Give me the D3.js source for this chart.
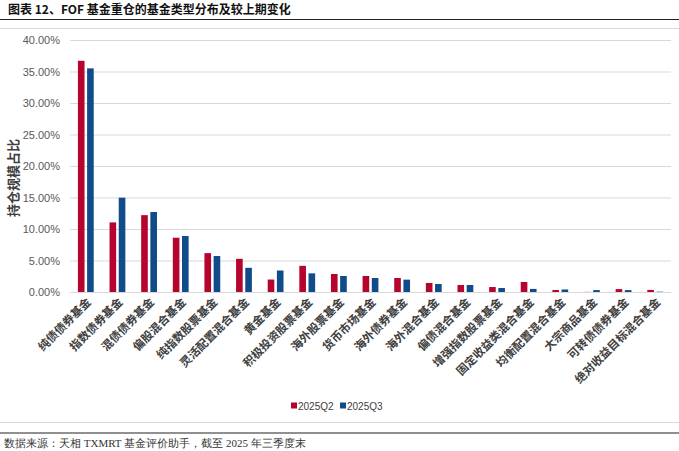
<!DOCTYPE html>
<html>
<head>
<meta charset="utf-8">
<script src="https://cdn.jsdelivr.net/npm/d3@7"></script>
<style>
  body { margin: 0; background: #fff; }
  svg { display: block; font-family: "Liberation Sans", Arial, "Noto Sans CJK SC", sans-serif; }
</style>
</head>
<body>
<svg id="chart" width="679" height="451"></svg>
<script>
const categories = [
  "纯债债券基金", "指数债券基金", "混债债券基金", "偏股混合基金", "纯指数股票基金",
  "灵活配置混合基金", "黄金基金", "积极投资股票基金", "海外股票基金", "货币市场基金",
  "海外债券基金", "海外混合基金", "偏债混合基金", "增强指数股票基金", "固定收益类混合基金",
  "均衡配置混合基金", "大宗商品基金", "可转债债券基金", "绝对收益目标混合基金"
];
const seriesNames = ["2025Q2", "2025Q3"];
const q2 = [36.7, 11.05, 12.2, 8.62, 6.17, 5.27, 1.98, 4.15, 2.86, 2.54, 2.22, 1.43, 1.11, 0.79, 1.59, 0.32, 0.02, 0.46, 0.33];
const q3 = [35.5, 14.97, 12.7, 8.89, 5.71, 3.84, 3.41, 2.96, 2.54, 2.22, 1.96, 1.27, 1.11, 0.63, 0.49, 0.40, 0.30, 0.30, 0.05];
const yTicks = [0, 5, 10, 15, 20, 25, 30, 35, 40];
const colors = ["#B5052F", "#104C8A"];

const svg = d3.select("#chart");
const plot = { left: 70, right: 671, top: 40, bottom: 292 };

// scales
const x0 = d3.scaleBand().domain(categories).range([plot.left, plot.right]).paddingInner(0.5).paddingOuter(0.25);
const x1 = d3.scaleBand().domain(seriesNames).range([0, x0.bandwidth()]).paddingInner(0.28);
const y = d3.scaleLinear().domain([0, 40]).range([plot.bottom, plot.top]);

// title + frame lines
svg.append("text").attr("x", 8).attr("y", 14)
  .attr("font-size", 12).attr("font-weight", "bold").attr("fill", "#111")
  .attr("font-family", "'Noto Sans CJK SC', sans-serif")
  .text("图表 12、FOF 基金重仓的基金类型分布及较上期变化");
svg.append("line").attr("x1", 0).attr("x2", 679).attr("y1", 19.5).attr("y2", 19.5).attr("stroke", "#222").attr("stroke-width", 1.2);
svg.append("line").attr("x1", 0).attr("x2", 679).attr("y1", 28.5).attr("y2", 28.5).attr("stroke", "#d9d9d9");
svg.append("line").attr("x1", 0).attr("x2", 679).attr("y1", 422.5).attr("y2", 422.5).attr("stroke", "#d9d9d9");
svg.append("line").attr("x1", 0).attr("x2", 679).attr("y1", 433).attr("y2", 433).attr("stroke", "#222").attr("stroke-width", 1.2);

// gridlines
const yAxis = d3.axisLeft(y).tickValues(yTicks).tickFormat(d => d.toFixed(2) + "%")
  .tickSize(-(plot.right - plot.left)).tickPadding(10);
const gy = svg.append("g").attr("transform", `translate(${plot.left},0)`).call(yAxis);
gy.select(".domain").remove();
gy.selectAll(".tick line").attr("stroke", "#d9d9d9");
gy.selectAll(".tick text").attr("font-size", 11).attr("fill", "#595959");

// bars
const data = categories.map((c, i) => ({ cat: c, vals: [q2[i], q3[i]] }));
const groups = svg.append("g").selectAll("g").data(data).join("g")
  .attr("transform", d => `translate(${x0(d.cat)},0)`);
groups.selectAll("rect").data(d => d.vals.map((v, j) => ({ key: seriesNames[j], v, j })))
  .join("rect")
  .attr("x", d => x1(d.key))
  .attr("width", x1.bandwidth())
  .attr("y", d => y(d.v))
  .attr("height", d => y(0) - y(d.v))
  .attr("fill", d => colors[d.j]);

// x labels
svg.append("g").selectAll("text").data(categories).join("text")
  .attr("transform", d => `translate(${x0(d) + x0.bandwidth() / 2 + 3},300) rotate(-45)`)
  .attr("text-anchor", "end").attr("dy", "0.35em")
  .attr("font-size", 11.5).attr("font-weight", "bold").attr("fill", "#404040")
  .attr("font-family", "'Noto Sans CJK SC', sans-serif")
  .text(d => d);

// y title
svg.append("text").attr("transform", "translate(18,178) rotate(-90)")
  .attr("text-anchor", "middle").attr("font-size", 13).attr("font-weight", "bold").attr("fill", "#404040")
  .attr("font-family", "'Noto Sans CJK SC', sans-serif")
  .text("持仓规模占比");

// legend
const legend = svg.append("g").attr("transform", "translate(291,406)");
const legX = [0, 49];
seriesNames.forEach((s, i) => {
  legend.append("rect").attr("x", legX[i]).attr("y", -3.5).attr("width", 6).attr("height", 6).attr("fill", colors[i]);
  legend.append("text").attr("x", legX[i] + 7).attr("y", 0).attr("dy", "0.35em")
    .attr("font-size", 10).attr("fill", "#404040").text(s);
});

// source
svg.append("text").attr("x", 4).attr("y", 447)
  .attr("font-size", 11).attr("fill", "#333")
  .attr("font-family", "'Liberation Serif', serif")
  .text("数据来源：天相 TXMRT 基金评价助手，截至 2025 年三季度末");
</script>
</body>
</html>
